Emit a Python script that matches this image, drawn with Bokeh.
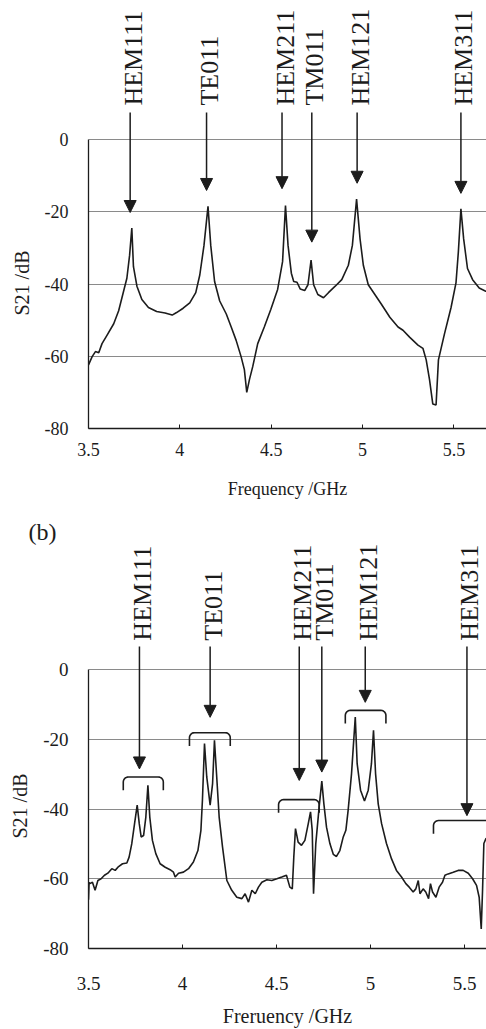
import math
from bokeh.plotting import figure
from bokeh.layouts import column
from bokeh.models import ColumnDataSource, FixedTicker, Arrow, NormalHead, Range1d, Title
from bokeh.core.properties import value
from bokeh.embed import file_html
from bokeh.resources import INLINE

# ---------------- data ----------------
freq_a = [3.500, 3.520, 3.538, 3.556, 3.574, 3.601, 3.638, 3.665, 3.692, 3.710, 3.725, 3.737, 3.746, 3.765,
          3.792, 3.828, 3.873, 3.919, 3.958, 3.982, 4.018, 4.054, 4.087, 4.109, 4.132, 4.154, 4.169, 4.190,
          4.218, 4.254, 4.281, 4.308, 4.335, 4.353, 4.366, 4.381, 4.399, 4.426, 4.462, 4.498, 4.535, 4.562,
          4.578, 4.592, 4.610, 4.623, 4.641, 4.659, 4.683, 4.701, 4.718, 4.732, 4.755, 4.786, 4.813, 4.850,
          4.886, 4.922, 4.944, 4.967, 4.986, 5.004, 5.031, 5.067, 5.103, 5.149, 5.194, 5.221, 5.257, 5.303,
          5.330, 5.348, 5.366, 5.384, 5.402, 5.415, 5.448, 5.484, 5.511, 5.524, 5.538, 5.553, 5.574, 5.602,
          5.638, 5.674, 5.700]
s21_a = [-62.4, -60.1, -58.7, -59.0, -56.5, -54.2, -51.0, -47.4, -42.0, -38.4, -32.0, -24.5, -35.2, -40.6,
         -44.3, -46.5, -47.6, -48.0, -48.6, -47.9, -46.7, -45.2, -42.4, -37.5, -29.3, -18.5, -29.3, -39.3,
         -44.7, -48.3, -51.9, -55.6, -60.1, -63.7, -70.0, -66.4, -62.8, -56.5, -51.9, -47.0, -41.5, -33.8,
         -18.3, -29.3, -37.0, -39.3, -39.5, -41.4, -41.8, -40.2, -33.4, -40.2, -42.9, -43.8, -42.4, -40.6,
         -38.8, -34.8, -29.3, -16.5, -27.5, -34.8, -40.2, -42.9, -45.6, -49.2, -51.9, -52.8, -54.7, -56.9,
         -57.8, -61.0, -66.4, -73.2, -73.5, -61.0, -53.8, -46.5, -39.7, -31.1, -19.2, -27.5, -35.7, -38.8,
         -41.1, -42.0, -42.2]

freq_b = [3.500, 3.503, 3.507, 3.521, 3.535, 3.550, 3.567, 3.585, 3.603, 3.624, 3.642, 3.660, 3.681, 3.704,
          3.716, 3.730, 3.745, 3.759, 3.770, 3.780, 3.793, 3.805, 3.816, 3.826, 3.840, 3.858, 3.881, 3.908,
          3.934, 3.952, 3.961, 3.979, 4.005, 4.032, 4.058, 4.082, 4.098, 4.106, 4.117, 4.129, 4.147, 4.160,
          4.170, 4.181, 4.195, 4.213, 4.236, 4.262, 4.289, 4.316, 4.333, 4.351, 4.369, 4.387, 4.404, 4.422,
          4.449, 4.475, 4.502, 4.528, 4.553, 4.571, 4.584, 4.592, 4.601, 4.615, 4.633, 4.651, 4.669, 4.681,
          4.690, 4.697, 4.709, 4.727, 4.741, 4.752, 4.766, 4.784, 4.802, 4.819, 4.837, 4.855, 4.869, 4.881,
          4.899, 4.919, 4.929, 4.947, 4.968, 4.988, 5.005, 5.016, 5.027, 5.041, 5.059, 5.085, 5.112, 5.138,
          5.165, 5.188, 5.206, 5.227, 5.241, 5.254, 5.263, 5.280, 5.294, 5.309, 5.319, 5.330, 5.348, 5.365,
          5.383, 5.396, 5.413, 5.440, 5.466, 5.493, 5.520, 5.543, 5.564, 5.578, 5.589, 5.596, 5.603, 5.614,
          5.630]
s21_b = [-66.0, -61.0, -61.4, -61.0, -63.3, -60.5, -60.0, -59.0, -58.4, -57.1, -57.6, -56.5, -55.7, -55.5,
         -53.8, -50.0, -44.2, -38.9, -44.2, -48.0, -47.6, -42.3, -33.2, -42.3, -49.0, -52.8, -55.7, -56.7,
         -57.4, -58.1, -59.5, -58.4, -58.1, -57.1, -55.2, -51.9, -46.1, -37.5, -21.2, -30.8, -38.9, -32.7,
         -20.3, -29.9, -42.3, -50.9, -60.5, -63.3, -65.3, -65.7, -64.3, -66.7, -63.3, -64.3, -62.4, -61.0,
         -60.3, -60.5, -60.0, -59.5, -59.0, -62.4, -62.9, -53.8, -45.6, -49.5, -50.4, -49.0, -44.2, -40.8,
         -46.1, -64.3, -49.9, -39.3, -32.0, -38.5, -45.2, -49.9, -53.0, -53.6, -51.9, -48.0, -46.1, -40.4,
         -29.9, -13.6, -27.0, -34.6, -37.7, -34.6, -27.0, -17.4, -29.9, -38.5, -44.2, -49.9, -54.3, -57.6,
         -59.5, -61.4, -62.4, -63.8, -62.9, -60.5, -64.3, -62.9, -63.8, -65.7, -61.4, -63.8, -65.3, -62.4,
         -61.0, -59.0, -58.6, -58.1, -57.6, -57.6, -58.4, -60.0, -61.9, -65.3, -74.4, -63.3, -49.9, -48.5,
         -48.0]

modes = ["HEM111", "TE011", "HEM211", "TM011", "HEM121", "HEM311"]
arrow_freq_a = [3.728, 4.146, 4.559, 4.722, 4.970, 5.538]
arrow_tip_a = [-20.2, -14.1, -13.6, -28.4, -12.1, -14.9]
arrow_freq_b = [3.771, 4.147, 4.621, 4.741, 4.972, 5.513]
arrow_tip_b = [-28.5, -13.7, -31.8, -29.4, -9.4, -41.9]

bracket_start_b = [3.685, 4.037, 4.511, 4.866, 5.335]
bracket_end_b = [3.898, 4.254, 4.727, 5.082, 5.800]
bracket_top_b = [-30.8, -18.1, -37.3, -11.7, -43.3]

x_ticks = [3.5, 4, 4.5, 5, 5.5]
x_tick_labels = ["3.5", "4", "4.5", "5", "5.5"]
y_ticks = [-80, -60, -40, -20, 0]
y_tick_labels = ["-80", "-60", "-40", "-20", "0"]
grid_ticks = [-60, -40, -20, 0]

y_title = "S21 /dB"
x_title_a = "Frequency /GHz"
x_title_b = "Freruency /GHz"
panel_tag_b = "(b)"

# ---------------- styling ----------------
FONT = "Liberation Serif"
INK = "#1c1c1c"
GRID = "#8a8a8a"


def make_panel(width, height, xr, yr, bl, bb, tick_fs, title_fs, xtitle,
               lab_standoff_x, title_standoff_x, ytitle_offset, ytitle_standoff):
    p = figure(width=width, height=height, x_range=Range1d(*xr), y_range=Range1d(*yr),
               output_backend="svg", toolbar_location=None,
               min_border_left=bl, min_border_right=0, min_border_top=0, min_border_bottom=bb)
    p.outline_line_color = None
    p.background_fill_color = "white"
    p.xgrid.visible = False
    p.ygrid.ticker = FixedTicker(ticks=grid_ticks)
    p.ygrid.grid_line_color = GRID
    p.ygrid.grid_line_width = 1.2

    ax = p.xaxis[0]
    ax.ticker = FixedTicker(ticks=x_ticks)
    ax.major_label_overrides = {t: l for t, l in zip(x_ticks, x_tick_labels)}
    ax.major_tick_in = 4
    ax.major_tick_out = 0
    ax.minor_tick_line_color = None
    ax.axis_line_color = INK
    ax.axis_line_width = 1.3
    ax.major_tick_line_color = INK
    ax.major_label_text_font = FONT
    ax.major_label_text_font_size = tick_fs
    ax.major_label_text_color = INK
    ax.major_label_standoff = lab_standoff_x
    ax.axis_label = xtitle
    ax.axis_label_text_font = FONT
    ax.axis_label_text_font_size = title_fs
    ax.axis_label_text_font_style = "normal"
    ax.axis_label_text_color = INK
    ax.axis_label_standoff = title_standoff_x

    ay = p.yaxis[0]
    ay.ticker = FixedTicker(ticks=y_ticks)
    ay.bounds = (-80, 0)
    ay.major_label_overrides = {t: l for t, l in zip(y_ticks, y_tick_labels)}
    ay.major_tick_line_color = None
    ay.minor_tick_line_color = None
    ay.axis_line_color = INK
    ay.axis_line_width = 1.3
    ay.major_label_text_font = FONT
    ay.major_label_text_font_size = tick_fs
    ay.major_label_text_color = INK
    ay.major_label_standoff = 14

    p.add_layout(Title(text=y_title, align="left", offset=ytitle_offset, standoff=ytitle_standoff,
                       vertical_align="top", text_font=FONT, text_font_size="20px",
                       text_font_style="normal", text_color=INK), "left")
    return p


def add_marks(p, fx, fy, afx, aty, label_base, arrow_start):
    p.line(fx, fy, line_color=INK, line_width=1.6)
    src = ColumnDataSource(dict(x=afx, ys=[arrow_start] * len(afx), ye=aty,
                                yl=[label_base] * len(afx), t=modes))
    p.add_layout(Arrow(end=NormalHead(size=12, fill_color=INK, line_color=INK, line_width=1),
                       x_start="x", y_start="ys", x_end="x", y_end="ye", source=src,
                       line_color=INK, line_width=1.5))
    p.text(x="x", y="yl", text="t", source=src, angle=math.pi / 2, text_align="left",
           text_baseline="middle", x_offset=3, text_font=value(FONT), text_font_size="26px",
           text_color=INK)


# ---- panel (a)   (its canvas also carries the "(b)" tag beneath the axis title)
pa = make_panel(486, 568, (3.5, 5.678), (-80, 38.5), 85, 140, "18px", "18px", x_title_a, 14, 20, 113, 14)
add_marks(pa, freq_a, s21_a, arrow_freq_a, arrow_tip_a, 9.4, 7.5)
pa.add_layout(Title(text=panel_tag_b, align="left", offset=-60, standoff=34, vertical_align="top",
                    text_font=FONT, text_font_size="24px", text_font_style="normal",
                    text_color=INK), "below")

# ---- panel (b)
pb = make_panel(486, 521, (3.5, 5.617), (-80, 46.2), 88, 81, "19px", "20px", x_title_b, 28, 12, 110, 16)
pb.border_fill_color = None
pb.margin = (-60, 0, 0, 0)
add_marks(pb, freq_b, s21_b, arrow_freq_b, arrow_tip_b, 8.3, 6.6)

# brackets (rounded ends) built from the bracket arrays
rx = 0.027
rdb = 1.45
drop = 3.8
bx, by = [], []
for x0, x1, top in zip(bracket_start_b, bracket_end_b, bracket_top_b):
    xs, ys = [x0], [top - drop]
    for k in range(7):
        t = math.pi - k * (math.pi / 2) / 6
        xs.append(x0 + rx + rx * math.cos(t))
        ys.append(top - rdb + rdb * math.sin(t))
    for k in range(7):
        t = math.pi / 2 - k * (math.pi / 2) / 6
        xs.append(x1 - rx + rx * math.cos(t))
        ys.append(top - rdb + rdb * math.sin(t))
    xs.append(x1)
    ys.append(top - drop)
    bx.append(xs)
    by.append(ys)
pb.multi_line(bx, by, line_color=INK, line_width=1.6)

layout = column(pa, pb, spacing=0)
open("out.html", "w").write(file_html(layout, INLINE))
